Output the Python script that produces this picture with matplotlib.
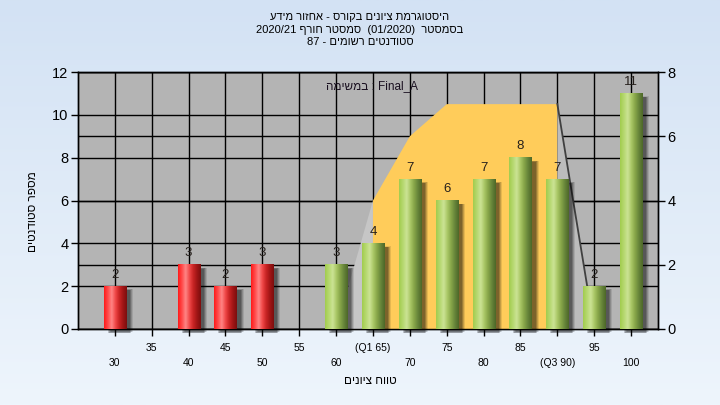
import re
import numpy as np
import matplotlib
matplotlib.use('Agg')
import matplotlib.pyplot as plt
from matplotlib.colors import LinearSegmentedColormap
import matplotlib.transforms as mtransforms

# ---------------- data ----------------
grades = [30, 35, 40, 45, 50, 55, 60, 65, 70, 75, 80, 85, 90, 95, 100]
tick_labels = ['30', '35', '40', '45', '50', '55', '60', '(Q1 65)', '70',
               '75', '80', '85', '(Q3 90)', '95', '100']
counts = [2, 0, 3, 2, 3, 0, 3, 4, 7, 6, 7, 8, 7, 2, 11]
pass_grade = 60
area_grades = [60, 65, 70, 75, 80, 85, 90, 95]
area_values = [0, 4, 6, 7, 7, 7, 7, 0]      # secondary (right) axis units
q1_grade = 65
q3_grade = 90

title_lines = ["היסטוגרמת ציונים בקורס - אחזור מידע",
               "בסמסטר  (01/2020)  סמסטר חורף 2020/21",
               "סטודנטים רשומים - 87"]
y_label = "מספר סטודנטים"
x_label = "טווח ציונים"
inner_note = "Final_A : במשימה"


def vis(s):
    """logical RTL string -> visual left-to-right string"""
    r = s[::-1]
    return re.sub(r'[A-Za-z0-9_/().]+', lambda m: m.group(0)[::-1], r)


plt.rcParams['font.family'] = ['Liberation Sans', 'DejaVu Sans']

W, H = 720, 405
fig = plt.figure(figsize=(W / 100, H / 100), dpi=100)

# background gradient
bg = fig.add_axes([0, 0, 1, 1], zorder=-10)
bg.axis('off')
grad_bg = np.linspace(0, 1, 256).reshape(-1, 1)
bg_cmap = LinearSegmentedColormap.from_list('bg', ['#d3e2f4', '#eef5fc'])
bg.imshow(grad_bg, aspect='auto', cmap=bg_cmap, extent=[0, 1, 0, 1])
bg.set_xlim(0, 1)
bg.set_ylim(0, 1)

L, R, T, B = 78, 658, 72, 329
ax = fig.add_axes([L / W, 1 - B / H, (R - L) / W, (B - T) / H])
ax2 = ax.twinx()
ax.set_zorder(ax2.get_zorder() + 1)
ax.patch.set_visible(False)
ax2.patch.set_visible(True)
ax2.patch.set_facecolor('#b4b4b4')

pos = np.arange(len(grades))
ax.set_autoscale_on(False)
ax.set_xlim(-1, 14.73)
ax.set_ylim(0, 12)
ax2.set_ylim(0, 8)

# grids
ax.set_yticks(range(0, 13, 2))
ax2.set_yticks(range(0, 9, 2))
ax.set_xticks(pos)
ax.grid(True, color='black', lw=1.0, zorder=0)
ax.set_axisbelow(True)
ax2.grid(True, axis='y', color='black', lw=1.0)

# area (secondary axis units, drawn into main axes)
gidx = {g: i for i, g in enumerate(grades)}
ax_pos = np.array([gidx[g] for g in area_grades], dtype=float)
av = np.array(area_values, dtype=float)
i1 = area_grades.index(q1_grade)
i3 = area_grades.index(q3_grade)
tr2 = ax2.transData
ax.fill(np.r_[ax_pos[:i1 + 1], ax_pos[i1]], np.r_[av[:i1 + 1], 0],
        color='#c6c6c6', lw=0, transform=tr2, zorder=1)
ax.fill(np.r_[ax_pos[i1], ax_pos[i1:i3 + 1], ax_pos[i3]],
        np.r_[0, av[i1:i3 + 1], 0], color='#ffcc5a', lw=0,
        transform=tr2, zorder=1)
ax.fill(np.r_[ax_pos[i3], ax_pos[i3:], ax_pos[i3]],
        np.r_[0, av[i3:], 0], color='#bcbcbc', lw=0,
        transform=tr2, zorder=1)
ax.plot(ax_pos[i3:], av[i3:], color='#404040', lw=1.3,
        transform=tr2, zorder=1.5)

# bars with gradient and shadow
green = LinearSegmentedColormap.from_list(
    'g', ['#a2cc4e', '#b6d870', '#cbe394', '#a9c765', '#86a548', '#66843a', '#4d6828'])
red = LinearSegmentedColormap.from_list(
    'r', ['#ff1a1a', '#ff4b4b', '#ff8585', '#f04848', '#c82424', '#a01616', '#7c0e0e'])
bw = 0.6
hg = np.linspace(0, 1, 64).reshape(1, -1)
for p, g, c in zip(pos, grades, counts):
    if c <= 0:
        continue
    x0, x1 = p - bw / 2, p + bw / 2
    for k, (dx, a) in enumerate([(7, 0.10), (6, 0.15), (5, 0.2), (4, 0.2)]):
        off = mtransforms.offset_copy(ax.transData, fig=fig, x=dx, y=-3 - k * 0.3,
                                      units='dots')
        ax.add_patch(plt.Rectangle((x0, 0), bw, c, facecolor='black', alpha=a,
                                   lw=0, transform=off, zorder=2, clip_on=False))
    ax.imshow(hg, extent=[x0, x1, 0, c], aspect='auto',
              cmap=green if g >= pass_grade else red, zorder=3,
              interpolation='bilinear')
    ax.annotate(str(c), (p, c), xytext=(0, 4), textcoords='offset points',
                ha='center', va='bottom', fontsize=9.5, color='#26201c', zorder=5)

ax.set_xlim(-1, 14.73)
ax.set_ylim(0, 12)

# ticks and labels
ax.set_xticklabels([lab if i % 2 == 1 else '\n' + lab
                    for i, lab in enumerate(tick_labels)],
                   fontsize=7.5, linespacing=1.65)
ax.tick_params(axis='x', length=5, width=1, direction='out', pad=5, colors='black')
ax.tick_params(axis='y', length=5, width=1, direction='out', labelsize=10.5, pad=2)
ax2.tick_params(axis='y', length=5, width=1, direction='out', labelsize=10.5, pad=2)
for a in (ax, ax2):
    for s in a.spines.values():
        s.set_color('black')
        s.set_linewidth(1)

fig.text(0.5, 1 - 17 / H, vis(title_lines[0]), ha='center', va='center', fontsize=8)
fig.text(0.5, 1 - 30 / H, vis(title_lines[1]), ha='center', va='center', fontsize=8)
fig.text(0.5, 1 - 42 / H, vis(title_lines[2]), ha='center', va='center', fontsize=8)
fig.text(33 / W, 1 - 212 / H, vis(y_label), rotation=90, ha='center', va='center',
         fontsize=8.5)
fig.text(370 / W, 1 - 381 / H, vis(x_label), ha='center', va='center', fontsize=8.5)
ax.text((372 - L) / (R - L), (B - 86) / (B - T), vis(inner_note),
        transform=ax.transAxes, ha='center', va='center', fontsize=8.5,
        color='#1a1020', zorder=6)

fig.savefig('out.png', dpi=100)
